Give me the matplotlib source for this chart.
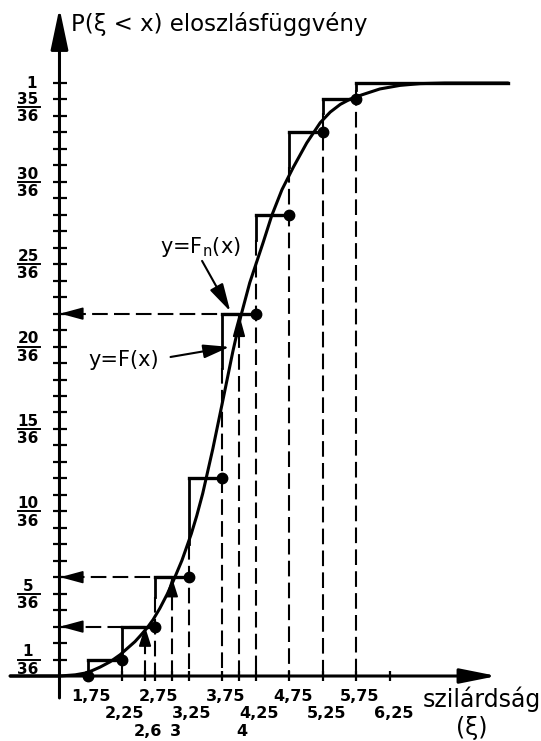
"""Empirical vs. smooth distribution function (eloszlásfüggvény) sketch."""

import matplotlib

matplotlib.use("Agg")
import matplotlib.pyplot as plt

# smooth distribution function F(x)
curve_x = [0.59, 1.33, 1.56, 1.71, 1.81, 1.93, 2.08, 2.23, 2.33, 2.45,
           2.53, 2.63, 2.72, 2.82, 2.93, 3.02, 3.15, 3.29, 3.37, 3.46,
           3.61, 3.76, 3.91, 4.03, 4.16, 4.36, 4.49, 4.64, 4.81, 5.01,
           5.21, 5.36, 5.51, 5.66, 5.83, 6.10, 6.40, 6.70, 7.07, 8.01]
curve_p = [0.0, 0.0, 0.002, 0.005, 0.009, 0.015, 0.024, 0.036, 0.046, 0.058,
           0.068, 0.081, 0.095, 0.114, 0.138, 0.160, 0.195, 0.240, 0.270, 0.308,
           0.383, 0.465, 0.548, 0.608, 0.663, 0.731, 0.777, 0.820, 0.858, 0.899,
           0.933, 0.951, 0.964, 0.973, 0.980, 0.990, 0.996, 0.999, 1.0, 1.0]

# empirical step function F_n(x): closed right ends and levels (in 36ths)
step_x = [1.75, 2.25, 2.75, 3.25, 3.75, 4.25, 4.75, 5.25, 5.75]
step_k = [0, 1, 3, 6, 12, 22, 28, 33, 35]
# lower end of the short solid jump mark at the left of the next step
jump_low = [0.3, 1.0, 4.8, 8.0, 18.7, 26.5, 30.9, 34.2, 35.6]
last_end = 8.01

# read-off examples: x -> F(x)
query_x = [2.6, 3.0, 4.0]
query_k = [3, 6, 22]

xtick_rows = [
    ["1,75", "2,75", "3,75", "4,75", "5,75"],
    ["2,25", "3,25", "4,25", "5,25", "6,25"],
    ["2,6", "3", "4"],
]
xtick_vals = [
    [1.75, 2.75, 3.75, 4.75, 5.75],
    [2.25, 3.25, 4.25, 5.25, 6.25],
    [2.6, 3.0, 4.0],
]
xtick_marks = [2.25, 2.6, 2.75, 3.0, 3.25, 3.75, 4.0, 4.25, 4.75, 5.25, 5.75, 6.25]
yfrac_num = [1, 5, 10, 15, 20, 25, 30, 35]
N = 36

Y_AXIS = 1.325
ROW_Y = [-0.034, -0.0635, -0.0935]
DASH = (7.5, 3)
NARROW = ["Liberation Sans Narrow", "DejaVu Sans"]

plt.rcParams["font.family"] = "DejaVu Sans"


def head(axis, tip, dx, dy, length=13, width=3.8):
    axis.annotate(
        "",
        xy=tip,
        xytext=(dx * length, dy * length),
        textcoords="offset points",
        arrowprops=dict(
            arrowstyle=f"-|>,head_length={length / 10},head_width={width / 10}",
            mutation_scale=10,
            color="black",
            lw=1.2,
            shrinkA=0,
            shrinkB=0,
        ),
    )


figure = plt.figure(figsize=(5.41, 7.41), dpi=100)
axis = figure.add_axes([0, 0, 1, 1])
axis.set_xlim(0.4385, 8.501)
axis.set_ylim(-0.1096, 1.140)
axis.axis("off")

# axes with arrows
axis.annotate(
    "", xy=(7.845, 0), xytext=(0.59, 0),
    arrowprops=dict(arrowstyle="-|>,head_length=1.6,head_width=0.32",
                    mutation_scale=14, lw=2.2, color="black",
                    shrinkA=0, shrinkB=0),
)
axis.annotate(
    "", xy=(Y_AXIS, 1.1265), xytext=(Y_AXIS, -0.037),
    arrowprops=dict(arrowstyle="-|>,head_length=1.8,head_width=0.38",
                    mutation_scale=14, lw=2.2, color="black",
                    shrinkA=0, shrinkB=0),
)
axis.hlines([k / N for k in range(1, N + 1)], Y_AXIS - 0.1, Y_AXIS + 0.11,
            color="black", lw=1.6)
axis.vlines(xtick_marks, -0.009, 0.009, color="black", lw=1.6)

# y labels as fractions
axis.text(0.915, 1.0, "1", ha="center", va="center", fontsize=11,
          fontweight="bold")
for num in yfrac_num:
    level = num / N - (0.013 if num == 35 else 0.0)
    axis.annotate(str(num), xy=(0.856, level), xytext=(0, 5.5),
                  textcoords="offset points", ha="center", va="center",
                  fontsize=11, fontweight="bold")
    axis.annotate(str(N), xy=(0.856, level), xytext=(0, -7),
                  textcoords="offset points", ha="center", va="center",
                  fontsize=11, fontweight="bold")
    axis.plot([0.70, 1.03], [level, level], color="black", lw=1.4)

# x labels in three staggered rows
for row_y, labels, values in zip(ROW_Y, xtick_rows, xtick_vals):
    for label, value in zip(labels, values):
        axis.text(value + 0.05, row_y, label, ha="center", va="center",
                  fontsize=11.5, fontweight="bold", family=NARROW)

# dashed verticals from the closed ends to the axis
for x, low in zip(step_x[1:], jump_low[1:]):
    axis.plot([x, x], [low / N, 0], color="black", lw=1.5, dashes=DASH)

# steps of F_n
for i in range(1, len(step_x)):
    level = step_k[i] / N
    axis.plot([step_x[i - 1], step_x[i]], [level, level], color="black", lw=2.4)
    axis.plot([step_x[i - 1], step_x[i - 1]], [level, jump_low[i - 1] / N],
              color="black", lw=2.0)
axis.plot([step_x[-1], last_end], [1, 1], color="black", lw=2.4)
axis.plot([step_x[-1], step_x[-1]], [1, jump_low[-1] / N], color="black", lw=2.0)
axis.plot(step_x, [k / N for k in step_k], "o", color="black", ms=7.5)

# smooth curve F
axis.plot(curve_x, curve_p, color="black", lw=2.2, solid_capstyle="round",
          solid_joinstyle="round")

# read-off arrows
for x, k in zip(query_x, query_k):
    level = k / N
    axis.plot([x, x], [0, level], color="black", lw=1.5, dashes=DASH)
    axis.plot([x, Y_AXIS], [level, level], color="black", lw=1.5, dashes=DASH)
    head(axis, (x, level), 0, -1, length=12 if k < 20 else 14)
    head(axis, (Y_AXIS + 0.01, level), 1, 0, length=14)

# labels of the two functions
axis.text(2.82, 0.713, r"y=F$_\mathregular{n}$(x)", fontsize=15, ha="left",
          va="baseline")
axis.annotate(
    "", xy=(3.87, 0.615), xytext=(3.45, 0.700),
    arrowprops=dict(arrowstyle="-|>,head_length=1.7,head_width=0.45",
                    mutation_scale=10, lw=1.5, color="black",
                    shrinkA=0, shrinkB=0),
)
axis.text(1.75, 0.533, "y=F(x)", fontsize=15, ha="left", va="center")
axis.annotate(
    "", xy=(3.86, 0.555), xytext=(2.98, 0.538),
    arrowprops=dict(arrowstyle="-|>,head_length=1.6,head_width=0.42",
                    mutation_scale=10, lw=1.5, color="black",
                    shrinkA=0, shrinkB=0),
)

# axis titles
axis.text(1.50, 1.0877, "P(ξ < x) eloszlásfüggvény", fontsize=16.5,
          ha="left", va="baseline")
axis.text(6.74, -0.0523, "szilárdság", fontsize=17, ha="left", va="baseline")
axis.text(7.47, -0.0877, "(ξ)", fontsize=17, ha="center", va="center")

figure.savefig("out.png", dpi=100)
plt.close(figure)
